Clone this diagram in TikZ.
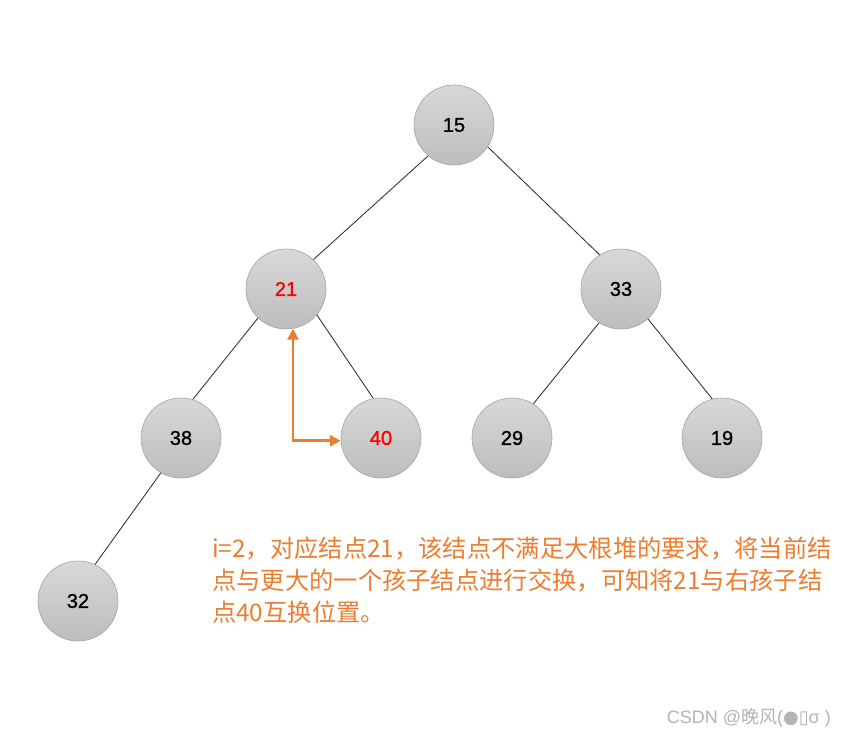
\documentclass[tikz,border=0pt]{standalone}
\usepackage{fontspec}
\setmainfont{Liberation Sans}
\newfontfamily\numfont[FakeBold=1.2]{Liberation Sans}
\newfontfamily\cjk{Noto Sans CJK SC}
\newfontfamily\dejavu{DejaVu Sans}
\usetikzlibrary{arrows.meta}
\definecolor{ctop}{HTML}{D8D8D8}
\definecolor{cbot}{HTML}{BDBDBD}
\definecolor{cborder}{HTML}{A3A3A3}
\definecolor{orangeA}{HTML}{ED7D31}
\definecolor{wm}{HTML}{B4B4B4}
\tikzset{
  heapnode/.style={circle, minimum size=80pt, inner sep=0pt, draw=cborder, line width=0.6pt,
    top color=ctop, bottom color=cbot, font=\numfont\fontsize{20pt}{22pt}\selectfont, text=black},
  hot/.style={text=red},
  edge/.style={draw=black!85, line width=0.8pt},
  swap/.style={draw=orangeA, line width=2.8pt, {Triangle[length=11pt,width=11pt]}-{Triangle[length=11pt,width=11pt]}},
}
\begin{document}
\begin{tikzpicture}[x=1pt,y=-1pt]
\useasboundingbox[fill=white] (0,0) rectangle (844,738);
\node[heapnode] (n15) at (454,125) {15};
\node[heapnode,hot] (n21) at (286,289) {21};
\node[heapnode] (n33) at (621,289) {33};
\node[heapnode] (n38) at (181,438) {38};
\node[heapnode,hot] (n40) at (381,438) {40};
\node[heapnode] (n29) at (512,438) {29};
\node[heapnode] (n19) at (722,438) {19};
\node[heapnode] (n32) at (78,601) {32};

\draw[edge] (n15.-130) -- (n21.47);
\draw[edge] (n15.-33) -- (n33.122);
\draw[edge] (n21.-134) -- (n38.73);
\draw[edge] (n21.-40) -- (n40.101);
\draw[edge] (n33.-123) -- (n29.58);
\draw[edge] (n33.-48) -- (n19.104);
\draw[edge] (n38.-120) -- (n32.65);

\draw[swap] (n21.-80) |- (n40.184);

\node[anchor=north west, inner sep=0pt, align=left, text=orangeA,
  font=\cjk\fontsize{24.3pt}{32pt}\selectfont] (desc) at (212,537)
  {i=2，对应结点21，该结点不满足大根堆的要求，将当前结\\点与更大的一个孩子结点进行交换，可知将21与右孩子结\\点40互换位置。};

\node[anchor=east, inner sep=0pt, text=wm, font=\fontsize{18pt}{20pt}\selectfont] (wmk) at (831,718)
  {CSDN @{\cjk 晚风}({\dejavu ●▯}σ )};
\end{tikzpicture}
\end{document}
